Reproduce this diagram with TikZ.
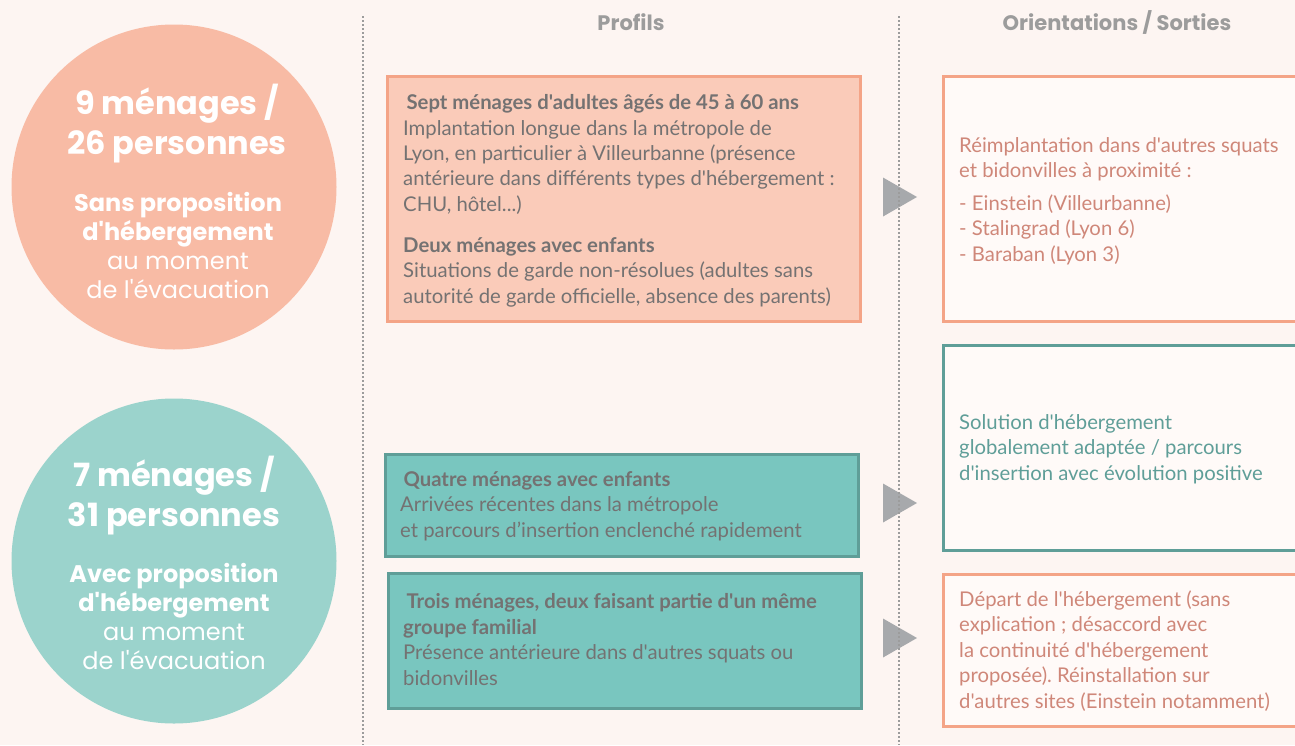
\documentclass[tikz,border=0pt]{standalone}
\usepackage{fontspec}
\setmainfont{Lato}[Ligatures = TeXOff]
\newfontfamily\popp{Poppins}
\usetikzlibrary{positioning}
\frenchspacing
\definecolor{bg}{HTML}{FDF5F2}
\definecolor{salmon}{HTML}{F8BBA5}
\definecolor{salmonbox}{HTML}{FACBB9}
\definecolor{salmonline}{HTML}{F4A487}
\definecolor{salmontext}{HTML}{CF8779}
\definecolor{teal}{HTML}{9BD3CC}
\definecolor{tealbox}{HTML}{79C6BF}
\definecolor{tealline}{HTML}{5F9E98}
\definecolor{greytext}{HTML}{747272}
\definecolor{headgrey}{HTML}{9C9C9C}
\definecolor{marker}{HTML}{A7A9AC}
\definecolor{paper}{HTML}{FFFAF8}
\tikzset{x = 1pt, y = -1pt,
  group/.style = {circle, minimum size = 325pt, inner sep = 0pt},
  count/.style = {text = white, align = center, inner sep = 0pt, anchor = base,
    font = \popp\bfseries\fontsize{32}{40}\selectfont},
  caption/.style = {text = white, align = center, inner sep = 0pt, anchor = base,
    font = \popp\fontsize{24}{29}\selectfont},
  profile/.style = {line width = 2.5pt, minimum width = 473pt,
    anchor = north west, inner sep = 0pt},
  exit/.style = {line width = 2.5pt, fill = paper, minimum width = 370pt,
    anchor = north west, inner sep = 0pt},
  body/.style = {font = \fontsize{20.3}{25.4}\selectfont, align = left,
    inner sep = 0pt, anchor = base west},
  header/.style = {font = \popp\bfseries\fontsize{21}{24}\selectfont,
    text = headgrey, inner sep = 0pt}}

\begin{document}
\begin{tikzpicture}
  \useasboundingbox [fill = bg] (0, 0) rectangle (1295, 745);
  % groups (base = last line)
  \node [group, fill = salmon] (sans) at (174, 187) {};
  \node [group, fill = teal] (avec) at (174, 561) {};
  \node [count] (sanscount) at (177, 154) {9 ménages /\\ 26 personnes};
  \node [caption] (sanscaption) at (178, 298)
    {\textbf{Sans proposition}\\ \textbf{d'hébergement}\\ au moment\\ de l'évacuation};
  \node [count] (aveccount) at (174, 526) {7 ménages /\\ 31 personnes};
  \node [caption] (aveccaption) at (174, 669)
    {\textbf{Avec proposition}\\ \textbf{d'hébergement}\\ au moment\\ de l'évacuation};
  % headers
  \node [header] (profils) at (631, 22) {Profils};
  \node [header] (sorties) at (1117, 22) {Orientations / Sorties};
  % profiles
  \node [profile, draw = salmonline, fill = salmonbox, minimum height = 245pt] (seven) at (386, 75) {};
  \node [profile, draw = tealline, fill = tealbox, minimum height = 102pt] (four) at (384, 453) {};
  \node [profile, draw = tealline, fill = tealbox, minimum height = 135pt] (three) at (387, 572) {};
  \node [body, text = greytext] (seventext) at (403, 303)
    {\textbf{\,Sept ménages d'adultes âgés de 45 à 60 ans}\\
     Implantation longue dans la métropole de\\
     Lyon, en particulier à Villeurbanne (présence\\
     antérieure dans différents types d'hébergement :\\
     CHU, hôtel...)\\[15.5pt]
     \textbf{Deux ménages avec enfants}\\
     Situations de garde non-résolues (adultes sans\\
     autorité de garde officielle, absence des parents)};
  \node [body, text = greytext] (fourtext) at (400, 537)
    {\textbf{\,Quatre ménages avec enfants}\\
     Arrivées récentes dans la métropole\\
     et parcours d’insertion enclenché rapidement};
  \node [body, text = greytext] (threetext) at (403, 685)
    {\textbf{\,Trois ménages, deux faisant partie d'un même}\\
     \textbf{groupe familial}\\
     Présence antérieure dans d'autres squats ou\\
     bidonvilles};
  % exits
  \node [exit, draw = salmonline, minimum height = 245pt] (reimpl) at (942, 75) {};
  \node [exit, draw = tealline, minimum height = 205pt] (solution) at (942, 344) {};
  \node [exit, draw = salmonline, minimum height = 152pt] (depart) at (942, 573) {};
  \node [body, text = salmontext] (reimpltext) at (959, 261)
    {Réimplantation dans d'autres squats\\
     et bidonvilles à proximité :\\[7pt]
     - Einstein (Villeurbanne)\\
     - Stalingrad (Lyon 6)\\
     - Baraban (Lyon 3)};
  \node [body, text = tealline] (solutiontext) at (959, 480)
    {Solution d'hébergement\\
     globalement adaptée / parcours\\
     d'insertion avec évolution positive};
  \node [body, text = salmontext] (departtext) at (959, 708)
    {Départ de l'hébergement (sans\\
     explication ; désaccord avec\\
     la continuité d'hébergement\\
     proposée). Réinstallation sur\\
     d'autres sites (Einstein notamment)};
  % markers
  \foreach \y in {197, 503, 638}
    \fill [marker] (883, \y - 19.5) -- (917, \y) -- (883, \y + 19.5) -- cycle;
  % separators
  \foreach \x in {363, 899}
    \draw [headgrey, line width = 1.6pt, dash pattern = on 1.6pt off 2.4pt] (\x, 16) -- (\x, 745);
\end{tikzpicture}
\end{document}
